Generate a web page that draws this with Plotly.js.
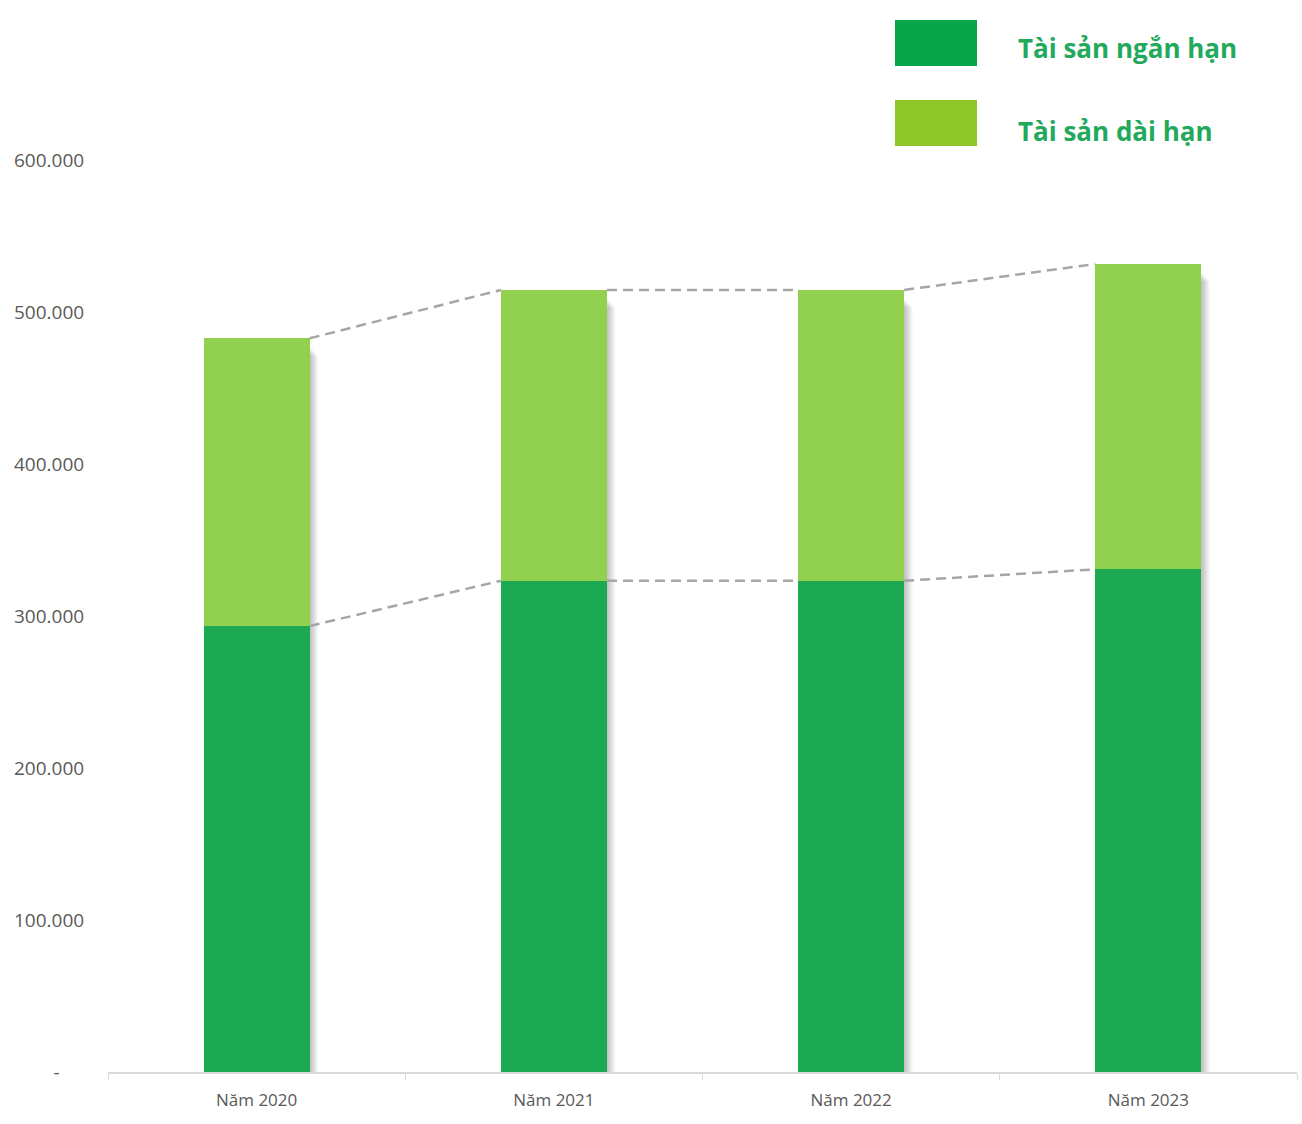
<!DOCTYPE html>
<html>
<head>
<meta charset="utf-8">
<script src="https://cdn.plot.ly/plotly-3.0.1.min.js"></script>
<style>html,body{margin:0;padding:0;background:#fff;}#chart{width:1302px;height:1124px;}</style>
</head>
<body>
<div id="chart"></div>
<script>
// ---- data ----
const categories = ["Năm 2020", "Năm 2021", "Năm 2022", "Năm 2023"];
const shortTerm = [293400, 323200, 323200, 330700];   // Tài sản ngắn hạn
const longTerm  = [189300, 191300, 191300, 200900];   // Tài sản dài hạn
const seriesNames = ["Tài sản ngắn hạn", "Tài sản dài hạn"];
const yTickVals = [0, 100000, 200000, 300000, 400000, 500000, 600000];
const yTickText = ["-\u00a0\u00a0\u00a0\u00a0\u00a0", "100.000", "200.000", "300.000", "400.000", "500.000", "600.000"];

// ---- styling ----
const darkBar = "#1ca952", lightBar = "#92d050";
const darkLeg = "#07a64a", lightLeg = "#8dc628";
const legText = "#22a95b";
const barWidthFrac = 0.357;
const axisFont = {family: "Open Sans, Noto Sans, sans-serif", color: "#595959"};
const W = 1302, H = 1124, ML = 108, MR = 5, MT = 160, MB = 52;
const PW = W - ML - MR, PH = H - MT - MB;
const px = x => (x - ML) / PW;          // pixel -> paper x
const py = y => (H - MB - y) / PH;      // pixel -> paper y

const totals = shortTerm.map((v, i) => v + longTerm[i]);
const idx = categories.map((c, i) => i);

const traces = [
  {type: "bar", x: categories, y: shortTerm, name: seriesNames[0], marker: {color: darkBar}, width: barWidthFrac, hoverinfo: "y"},
  {type: "bar", x: categories, y: longTerm, name: seriesNames[1], marker: {color: lightBar}, width: barWidthFrac, hoverinfo: "y"}
];

// series lines (Excel-style) connecting bar edges
function seriesLine(vals) {
  const xs = [], ys = [];
  for (let i = 0; i < vals.length - 1; i++) {
    xs.push(idx[i] + barWidthFrac / 2, idx[i + 1] - barWidthFrac / 2, null);
    ys.push(vals[i], vals[i + 1], null);
  }
  return {type: "scatter", mode: "lines", x: xs, y: ys, xaxis: "x2", yaxis: "y",
          line: {color: "#a6a6a6", width: 2.5, dash: "10px,6px"}, hoverinfo: "skip", showlegend: false};
}
traces.push(seriesLine(shortTerm));
traces.push(seriesLine(totals));

// subtle shadows to the right of bars
const shapes = [];
idx.forEach(i => {
  for (let k = 1; k <= 8; k++) {
    shapes.push({type: "rect", xref: "x2", yref: "y", layer: "below",
      x0: idx[i] + barWidthFrac / 2 - 0.004, x1: idx[i] + barWidthFrac / 2 + k * 0.0035,
      y0: 0, y1: totals[i] - 5000 - k * 800,
      fillcolor: "rgba(0,0,0,0.03)", line: {width: 0}});
  }
});

// custom legend
const legendItems = [
  {top: 20, bottom: 66, mid: 48, color: darkLeg, text: seriesNames[0]},
  {top: 100, bottom: 146, mid: 131, color: lightLeg, text: seriesNames[1]}
];
const annotations = [];
legendItems.forEach(b => {
  shapes.push({type: "rect", xref: "paper", yref: "paper",
    x0: px(895), x1: px(977), y0: py(b.bottom), y1: py(b.top),
    fillcolor: b.color, line: {width: 0}});
  annotations.push({xref: "paper", yref: "paper", x: px(1016), y: py(b.mid), xanchor: "left", yanchor: "middle",
    text: "<b>" + b.text + "</b>", showarrow: false,
    font: {family: "Open Sans, Noto Sans, sans-serif", size: 26, color: legText}});
});

const layout = {
  width: W, height: H,
  margin: {l: ML, r: MR, t: MT, b: MB},
  paper_bgcolor: "#fff", plot_bgcolor: "#fff",
  barmode: "stack",
  showlegend: false,
  xaxis: {type: "category", tickson: "boundaries", ticks: "outside", ticklen: 6, tickcolor: "#d9d9d9",
          showline: true, linecolor: "#d9d9d9", linewidth: 1.5, showgrid: false, zeroline: false,
          tickfont: Object.assign({size: 17}, axisFont), ticklabelstandoff: 12, range: [-0.5, 3.5]},
  xaxis2: {overlaying: "x", range: [-0.5, 3.5], visible: false, showgrid: false, zeroline: false},
  yaxis: {range: [0, 600000], tickvals: yTickVals, ticktext: yTickText, showgrid: false, zeroline: false,
          showline: false, ticks: "outside", ticklen: 19, tickcolor: "rgba(0,0,0,0)",
          tickfont: Object.assign({size: 19}, axisFont)},
  shapes: shapes,
  annotations: annotations
};

Plotly.newPlot("chart", traces, layout, {displayModeBar: false, staticPlot: true});
</script>
</body>
</html>
